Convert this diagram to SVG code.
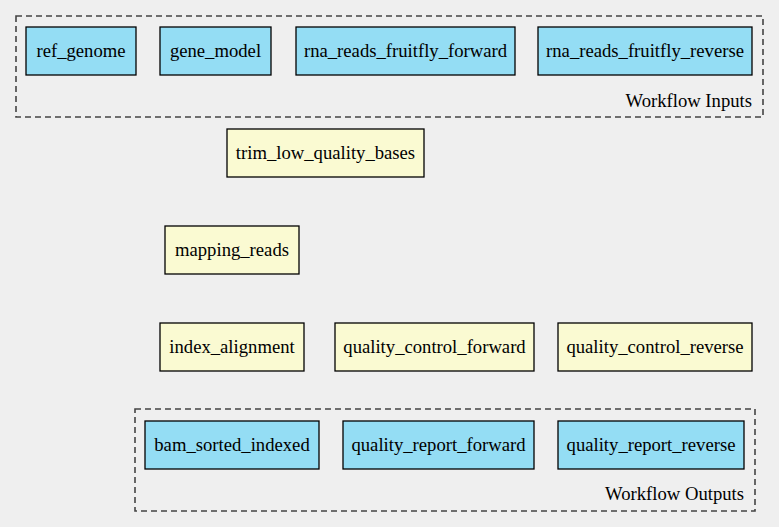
<svg xmlns="http://www.w3.org/2000/svg" width="779" height="527" viewBox="0 0 779 527">
<style>
text{font-family:"Liberation Serif","Times New Roman",serif;font-size:18.67px;fill:#000}
.n text{text-anchor:middle}
.io rect{fill:#94ddf4;stroke:#000;stroke-width:1.3}
.st rect{fill:#fafad2;stroke:#000;stroke-width:1.3}
.cl rect{fill:none;stroke:#444;stroke-width:1.6;stroke-dasharray:6,4}
.cl text{text-anchor:end}
</style>
<rect width="779" height="527" fill="#efefef"/>
<g id="cluster_inputs" class="cl"><rect x="16" y="16" width="747" height="101"/><text x="752" y="107">Workflow Inputs</text></g>
<g id="cluster_outputs" class="cl"><rect x="135" y="409" width="620" height="102"/><text x="744" y="500">Workflow Outputs</text></g>
<g id="connectors"></g>
<g id="ref_genome" class="n io"><rect x="26" y="27" width="110" height="48"/><text x="81" y="57">ref_genome</text></g>
<g id="gene_model" class="n io"><rect x="160" y="27" width="111" height="48"/><text x="215.5" y="57">gene_model</text></g>
<g id="rna_reads_fruitfly_forward" class="n io"><rect x="296" y="27" width="219" height="48"/><text x="405.5" y="57">rna_reads_fruitfly_forward</text></g>
<g id="rna_reads_fruitfly_reverse" class="n io"><rect x="538" y="27" width="214" height="48"/><text x="645" y="57">rna_reads_fruitfly_reverse</text></g>
<g id="trim_low_quality_bases" class="n st"><rect x="227" y="129" width="197" height="48"/><text x="325.5" y="159">trim_low_quality_bases</text></g>
<g id="mapping_reads" class="n st"><rect x="165" y="226" width="134" height="48"/><text x="232" y="256">mapping_reads</text></g>
<g id="index_alignment" class="n st"><rect x="160" y="323" width="144" height="48"/><text x="232" y="353">index_alignment</text></g>
<g id="quality_control_forward" class="n st"><rect x="335" y="323" width="199" height="48"/><text x="434.5" y="353">quality_control_forward</text></g>
<g id="quality_control_reverse" class="n st"><rect x="558" y="323" width="194" height="48"/><text x="655" y="353">quality_control_reverse</text></g>
<g id="bam_sorted_indexed" class="n io"><rect x="145" y="421" width="174" height="48"/><text x="232" y="451">bam_sorted_indexed</text></g>
<g id="quality_report_forward" class="n io"><rect x="343" y="421" width="191" height="48"/><text x="438.5" y="451">quality_report_forward</text></g>
<g id="quality_report_reverse" class="n io"><rect x="558" y="421" width="186" height="48"/><text x="651" y="451">quality_report_reverse</text></g>
</svg>
